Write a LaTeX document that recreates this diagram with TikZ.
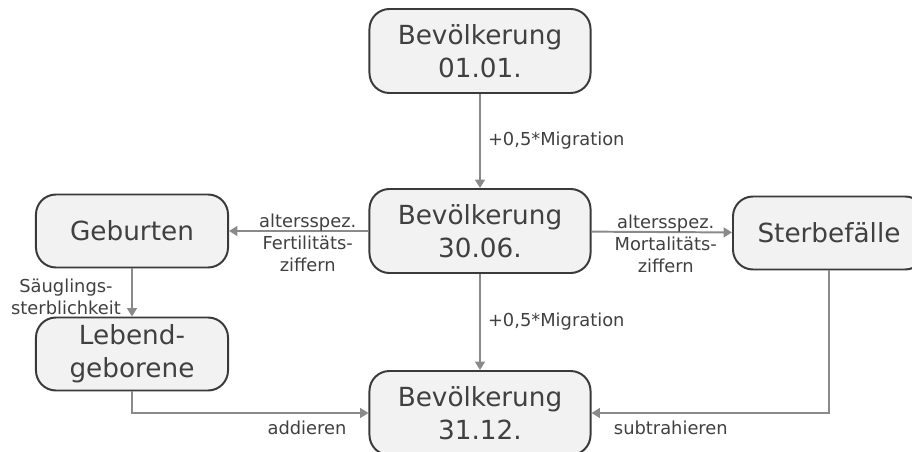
\documentclass[tikz,border=0pt]{standalone}
\usepackage{fontspec}
\setmainfont{DejaVu Sans}
\usetikzlibrary{arrows.meta, positioning}
\definecolor{boxfill}{HTML}{F1F2F1}
\definecolor{boxline}{HTML}{3A3A3A}
\definecolor{txt}{HTML}{404040}
\definecolor{flowgray}{HTML}{8A8A8A}

\begin{document}
\begin{tikzpicture}[x=0.025cm, y=-0.025cm,
  stock/.style={draw=boxline, fill=boxfill, line width=1.4pt,
    rounded corners=0.5cm, text=txt, align=center, inner sep=0pt,
    font=\fontsize{18.7}{23.5}\selectfont,
    minimum width=5.525cm, minimum height=2.1cm},
  event/.style={stock, minimum width=4.8cm, minimum height=1.825cm},
  flow/.style={draw=flowgray, line width=1.4pt,
    -{Triangle[length=6pt,width=7pt]}},
  lbl/.style={text=txt, align=center, inner sep=0pt,
    font=\fontsize{12.7}{15.6}\selectfont}]
  \useasboundingbox (0,0) rectangle (912,452);

  % Bestand
  \node[stock] (jan) at (480,51) {Bevölkerung\\01.01.};
  \node[stock] (jun) at (480,231) {Bevölkerung\\30.06.};
  \node[stock] (dec) at (480,413) {Bevölkerung\\31.12.};
  % Bewegungen
  \node[event] (birth) at (132,231) {Geburten};
  \node[event] (live) at (132,354) {Lebend-\\geborene};
  \node[event] (death) at (829,233) {Sterbefälle};

  \draw[flow] (jan) -- node[lbl, right=5pt] {+0,5*Migration} (jun);
  \draw[flow] (jun) -- node[lbl, right=5pt] {+0,5*Migration} (dec);
  \draw[flow] (jun) -- node[lbl, shift={(9,12)}] {altersspez.\\Fertilitäts-\\ziffern} (birth);
  \draw[flow] (jun) -- node[lbl, shift={(4,12)}] {altersspez.\\Mortalitäts-\\ziffern} (death);
  \draw[flow] (birth) -- node[lbl, shift={(-66,4)}] {Säuglings-\\sterblichkeit} (live);
  \draw[flow] (live.south) |- node[lbl, pos=0.87, below=5pt] {addieren} (dec.west);
  \draw[flow] (death.south) |- node[lbl, pos=0.833, below=5pt] {subtrahieren} (dec.east);
\end{tikzpicture}
\end{document}
